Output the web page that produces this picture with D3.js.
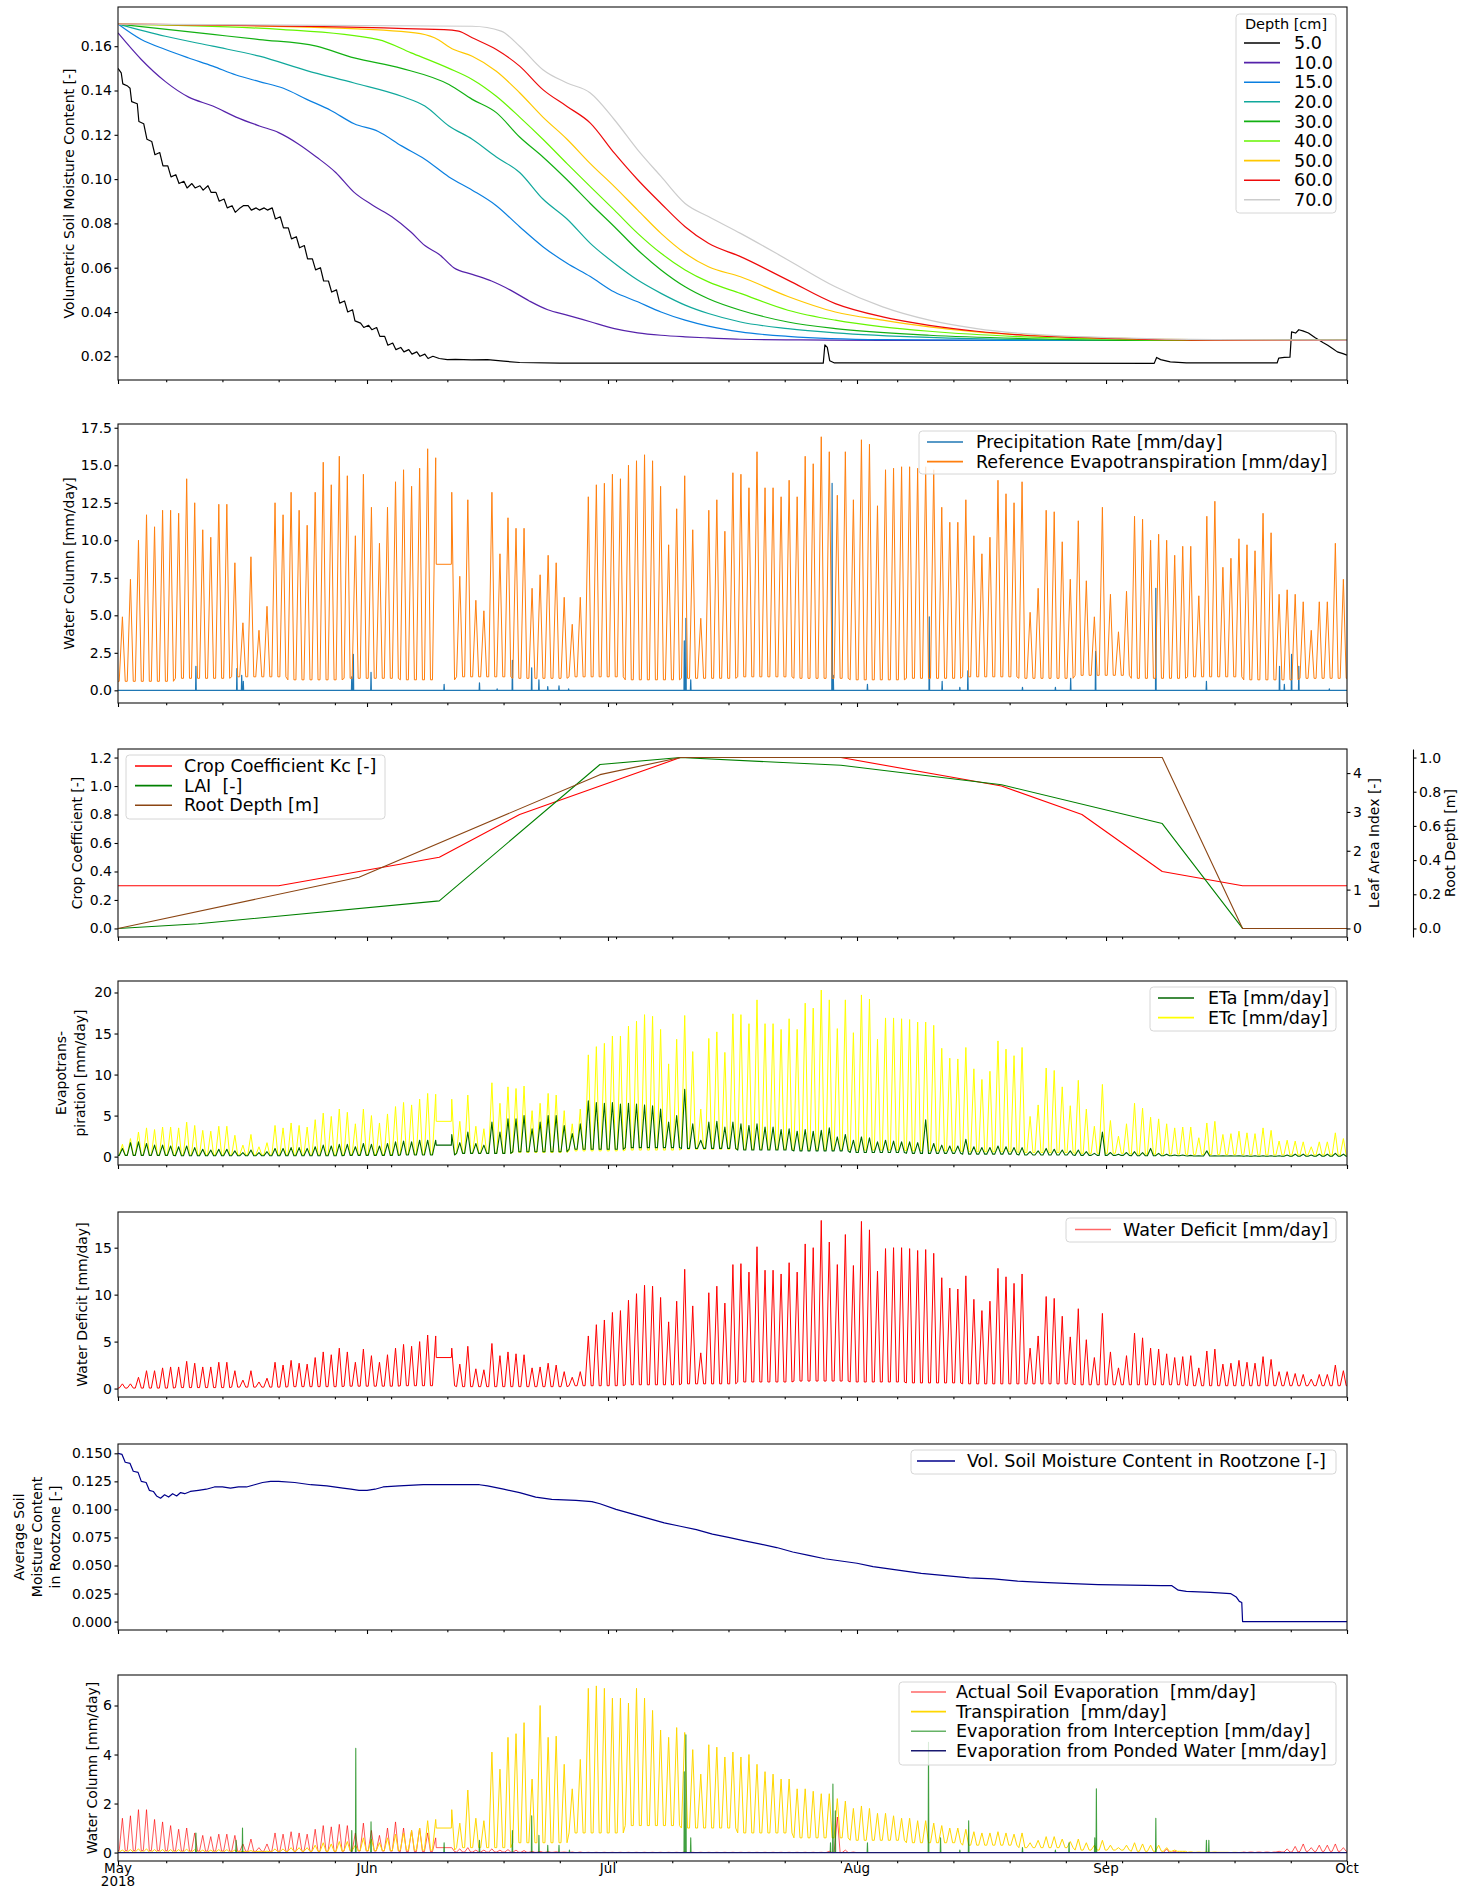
<!DOCTYPE html>
<html>
<head>
<meta charset="utf-8">
<script src="https://cdn.jsdelivr.net/npm/d3@7"></script>
<style>
  body { margin: 0; background: #fff; }
  svg { font-family: "DejaVu Sans", sans-serif; }
  text { white-space: pre; }
</style>
</head>
<body>
<svg width="1476" height="1887"></svg>
<script>
// ---- data (day 0 = 2018-05-01) ----
const depths = ["5.0", "10.0", "15.0", "20.0", "30.0", "40.0", "50.0", "60.0", "70.0"];
const depthColors = ["#000000", "#5522aa", "#0a7fe0", "#10a89c", "#12b012", "#66f500", "#ffc800", "#ee0a0a", "#cccccc"];

const sm5 = [[0,0.150],[0.4,0.148],[0.6,0.143],[1.2,0.142],[1.5,0.141],[1.7,0.135],[2.4,0.134],[2.6,0.126],[3.2,0.125],[3.6,0.118],[4.2,0.117],[4.6,0.111],[5.2,0.112],[5.6,0.106],[6.2,0.106],[6.6,0.101],[7.2,0.102],[7.6,0.098],[8.2,0.099],[8.6,0.096],[9.2,0.098],[9.6,0.096],[10.2,0.097],[10.6,0.095],[11.2,0.097],[11.6,0.094],[12.2,0.094],[12.6,0.090],[13.2,0.091],[13.6,0.087],[14.2,0.088],[14.6,0.085],[15.2,0.087],[15.6,0.088],[16.2,0.088],[16.6,0.086],[17.2,0.087],[17.6,0.086],[18.2,0.087],[18.6,0.086],[19.2,0.087],[19.6,0.082],[20.2,0.083],[20.6,0.078],[21.2,0.078],[21.6,0.073],[22.2,0.074],[22.6,0.069],[23.2,0.070],[23.6,0.064],[24.2,0.064],[24.6,0.059],[25.2,0.060],[25.6,0.054],[26.2,0.054],[26.6,0.049],[27.2,0.050],[27.6,0.044],[28.2,0.045],[28.6,0.040],[29.2,0.041],[29.5,0.036],[30.2,0.035],[30.6,0.033],[31.2,0.034],[31.6,0.032],[32.2,0.033],[32.6,0.029],[33.2,0.029],[33.6,0.025],[34.2,0.026],[34.6,0.023],[35.2,0.024],[35.6,0.022],[36.2,0.023],[36.6,0.021],[37.2,0.022],[37.6,0.020],[38.2,0.021],[38.6,0.019],[39.2,0.020],[40,0.0190],[41,0.0185],[42,0.0186],[44,0.0184],[46,0.0185],[48,0.0178],[50,0.0172],[55,0.0169],[87.8,0.0169],[88.0,0.0252],[88.3,0.0240],[88.6,0.018],[89.2,0.0170],[129.0,0.0168],[129.3,0.0195],[129.8,0.0185],[131,0.0175],[133,0.0170],[144.3,0.0170],[144.5,0.0192],[145.2,0.0195],[145.9,0.0196],[146.1,0.0310],[146.6,0.0305],[147.0,0.0320],[147.5,0.0315],[148.2,0.0305],[149,0.0285],[150,0.0262],[150.6,0.025],[151.2,0.0235],[151.8,0.022],[152.5,0.0212],[153,0.0205]];
const sm10 = [[0,0.166],[2.9,0.154],[5.9,0.144],[8.8,0.137],[11.8,0.133],[14.7,0.128],[17.6,0.124],[20,0.121],[22.4,0.116],[24.7,0.110],[27.1,0.103],[29.4,0.094],[31.8,0.088],[34.1,0.083],[36.5,0.076],[38.2,0.070],[40,0.066],[41.8,0.060],[44.1,0.057],[46.5,0.054],[48.8,0.050],[51.2,0.045],[53.5,0.041],[55.9,0.0386],[58.8,0.0356],[61.8,0.0325],[64.7,0.0306],[67.6,0.0295],[70.6,0.0288],[73.5,0.0283],[77.5,0.0277],[85,0.0274],[95,0.0272],[153,0.0272]];
const sm15 = [[0,0.170],[2.9,0.163],[5.9,0.1585],[8.8,0.1547],[11.8,0.151],[14.7,0.147],[17.6,0.144],[20.6,0.141],[23.5,0.136],[26.5,0.131],[29.4,0.125],[32.4,0.1215],[35.3,0.115],[38.2,0.109],[41.2,0.101],[44.1,0.095],[47.1,0.088],[50,0.0785],[52.9,0.0695],[55.9,0.062],[58.8,0.056],[61.8,0.049],[64.7,0.0446],[67.6,0.040],[70.6,0.0363],[73.5,0.0336],[77.5,0.031],[83.4,0.029],[95.2,0.0275],[110,0.0272],[153,0.0272]];
const sm20 = [[0,0.170],[5.9,0.1645],[11.8,0.160],[17.6,0.1555],[23.5,0.149],[29.4,0.1434],[35.3,0.1374],[38.2,0.133],[41.2,0.124],[44.1,0.118],[47.1,0.110],[50,0.103],[52.9,0.091],[55.9,0.082],[58.8,0.071],[61.8,0.062],[64.7,0.0544],[67.6,0.0484],[70.6,0.0431],[73.5,0.0393],[77.5,0.0355],[83.4,0.0325],[89.3,0.0306],[101,0.0285],[112.8,0.0275],[125,0.0272],[153,0.0272]];
const sm30 = [[0,0.170],[11.8,0.1653],[17.6,0.163],[24.7,0.160],[29.4,0.1547],[35.3,0.150],[41.2,0.1427],[44.1,0.136],[47.1,0.130],[50,0.119],[52.9,0.110],[55.9,0.0997],[58.8,0.089],[61.8,0.0785],[64.7,0.068],[67.6,0.059],[70.6,0.0514],[73.5,0.046],[77.5,0.0408],[83.4,0.0355],[89.3,0.0325],[101,0.0295],[112.8,0.028],[124.6,0.0272],[153,0.0272]];
const sm40 = [[0,0.170],[20.6,0.1675],[32.4,0.163],[36.5,0.157],[41.2,0.150],[44.1,0.145],[47.1,0.1374],[50,0.128],[52.9,0.118],[55.9,0.107],[58.8,0.0966],[61.8,0.086],[64.7,0.0755],[67.6,0.0665],[70.6,0.059],[73.5,0.0536],[77.5,0.0484],[83.4,0.0408],[89.3,0.0363],[95.2,0.0333],[101,0.0313],[112.8,0.0288],[124.6,0.0277],[135,0.0272],[153,0.0272]];
const sm50 = [[0,0.170],[26.5,0.1683],[37,0.166],[39.4,0.1638],[41.8,0.1585],[44.1,0.1555],[47.1,0.1487],[50,0.139],[52.9,0.128],[55.9,0.118],[58.8,0.107],[61.8,0.0966],[64.7,0.086],[67.6,0.0755],[70.6,0.0665],[73.5,0.0604],[77.5,0.0559],[83.4,0.047],[89.3,0.040],[95.2,0.0363],[101,0.0333],[106.9,0.031],[118.7,0.0288],[130.5,0.0277],[140,0.0273],[153,0.0272]];
const sm60 = [[0,0.170],[40.6,0.1675],[42.4,0.1668],[44.1,0.1638],[47.1,0.1585],[50,0.151],[52.9,0.1404],[55.9,0.1328],[58.8,0.1253],[61.8,0.1117],[64.7,0.0997],[67.6,0.089],[70.6,0.0785],[73.5,0.071],[77.5,0.065],[83.4,0.0544],[89.3,0.0438],[95.2,0.0378],[101,0.034],[106.9,0.0313],[112.8,0.0295],[124.6,0.028],[136.4,0.0273],[153,0.0272]];
const sm70 = [[0,0.170],[44.1,0.169],[47.7,0.1668],[50,0.160],[52.9,0.1494],[55.9,0.1434],[58.8,0.1389],[61.8,0.1268],[64.7,0.1132],[67.6,0.1012],[70.6,0.089],[73.5,0.0831],[77.5,0.0755],[83.4,0.0635],[89.3,0.0514],[95.2,0.0423],[101,0.0363],[106.9,0.0325],[112.8,0.0302],[124.6,0.0283],[136.4,0.0275],[153,0.0273]];
const soilMoisture = [sm5, sm10, sm15, sm20, sm30, sm40, sm50, sm60, sm70];

// daily peak values, one per day
const et0Peaks = [
  4.9,7.4,10.0,11.7,10.9,12.0,12.0,11.8,14.1,12.5,
  10.7,10.2,12.4,12.4,8.5,4.5,8.9,4.0,5.6,12.5,
  11.7,13.2,12.0,11.0,13.2,15.2,13.7,15.6,14.3,10.3,
  14.4,12.2,9.8,12.2,13.9,14.7,13.6,14.8,16.1,15.5,
  8.4,13.2,7.6,12.7,6.0,5.3,13.2,9.1,11.5,10.8,
  10.8,6.8,7.7,9.0,8.5,6.2,4.4,6.2,12.9,13.7,
  13.8,14.4,14.1,15.0,15.3,15.7,15.3,13.6,9.7,12.1,
  14.3,10.7,4.8,12.0,12.7,10.6,14.5,14.4,13.5,15.9,
  13.5,13.5,12.9,14.0,12.9,15.6,15.1,16.9,15.9,13.0,
  15.9,12.7,16.7,16.4,12.3,14.7,14.8,14.9,14.9,14.8,
  14.9,14.7,12.2,11.2,11.2,12.7,10.3,9.1,10.2,14.0,
  13.1,12.5,13.9,5.2,6.8,12.0,11.9,9.9,7.4,11.3,
  7.3,4.9,12.2,6.4,3.9,6.6,11.6,11.4,10.0,10.4,
  10.0,9.0,9.6,9.6,6.3,11.6,12.6,8.2,8.8,10.1,
  9.7,9.3,11.8,10.5,6.4,6.7,6.4,5.9,4.0,5.9,
  5.9,9.8,7.4];
const etcPeaks = [
  1.5,2.2,3.0,3.5,3.3,3.6,3.6,3.5,4.2,3.8,
  3.2,3.1,3.7,3.7,2.6,1.4,2.7,1.2,1.7,3.8,
  3.5,4.1,3.8,3.6,4.5,5.3,4.9,5.8,5.4,4.0,
  5.8,5.0,4.1,5.2,6.1,6.6,6.3,7.0,7.7,7.6,
  4.3,7.0,4.3,7.5,3.7,3.4,9.0,6.5,8.5,8.3,
  8.6,5.6,6.5,7.7,7.5,5.6,4.0,5.8,12.4,13.4,
  13.8,14.7,14.7,15.9,16.5,17.3,17.1,15.5,11.3,14.3,
  17.2,12.8,5.8,14.4,15.2,12.7,17.4,17.3,16.2,19.1,
  16.2,16.2,15.5,16.8,15.5,18.7,18.1,20.3,19.1,15.6,
  19.1,15.1,19.7,19.2,14.3,16.9,16.9,16.8,16.7,16.4,
  16.4,16.0,13.2,12.0,11.9,13.3,10.7,9.4,10.4,14.1,
  13.1,12.3,13.3,4.9,6.3,10.8,10.5,8.5,6.2,9.3,
  5.8,3.7,8.8,4.4,2.5,4.0,6.5,5.9,4.8,4.6,
  4.0,3.5,3.6,3.6,2.3,4.1,4.3,2.7,2.8,3.1,
  2.9,2.8,3.5,3.2,1.9,2.0,1.9,1.8,1.2,1.8,
  1.8,2.9,2.2];
const etaPeaks = [
  1.0,1.7,1.8,1.6,1.4,1.4,1.3,1.2,1.3,1.1,
  0.9,0.8,0.9,0.9,0.7,0.5,0.8,0.5,0.6,1.0,
  1.0,1.1,1.1,1.0,1.2,1.4,1.3,1.5,1.5,1.2,
  1.6,1.5,1.3,1.6,1.8,1.9,1.8,2.0,2.0,2.0,
  1.4,2.7,1.7,3.0,1.6,1.4,4.2,3.0,4.6,4.6,
  5.0,3.4,4.2,5.0,5.0,3.8,2.8,4.0,6.8,6.6,
  6.5,6.6,6.4,6.5,6.4,6.3,6.2,5.8,4.2,5.0,
  8.2,4.0,2.0,4.2,4.3,3.6,4.2,4.0,3.8,4.0,
  3.6,3.6,3.3,3.4,3.1,3.3,3.1,3.2,3.5,2.4,
  2.7,2.0,2.4,2.3,1.8,2.0,1.9,1.8,1.8,1.7,
  4.5,1.6,1.4,1.3,1.3,2.1,1.2,1.1,1.1,1.3,
  1.2,1.1,1.1,0.6,0.7,1.0,0.9,0.8,0.7,0.8,
  0.6,0.4,3.0,0.5,0.3,0.5,0.6,0.5,1.0,0.4,
  0.3,0.2,0.2,0.15,0.1,0.7,0.1,0.1,0.1,0.1,
  0.1,0.1,0.1,0.1,0.1,0.2,0.3,0.3,0.2,0.3,
  0.3,0.4,0.3];
const deficitPeaks = [
  0.5,0.5,1.2,1.9,1.9,2.2,2.3,2.3,2.9,2.7,
  2.3,2.3,2.8,2.8,1.9,0.9,1.9,0.7,1.1,2.8,
  2.5,3.0,2.7,2.6,3.3,3.9,3.6,4.3,3.9,2.8,
  4.2,3.5,2.8,3.6,4.3,4.7,4.5,5.0,5.7,5.6,
  3.3,4.3,2.6,4.5,2.1,2.0,4.8,3.5,3.9,3.7,
  3.6,2.2,2.3,2.7,2.5,1.8,1.2,1.8,5.6,6.8,
  7.3,8.1,8.3,9.4,10.1,11.0,10.9,9.7,7.1,9.3,
  12.7,8.8,3.8,10.2,10.9,9.1,13.2,13.3,12.4,15.1,
  12.6,12.6,12.2,13.4,12.4,15.4,15.0,17.9,15.6,13.2,
  16.4,13.1,17.8,16.9,12.5,14.9,15.0,15.0,14.9,14.7,
  14.8,14.4,11.8,10.7,10.6,12.0,9.5,8.3,9.3,12.8,
  11.9,11.2,12.2,4.3,5.6,9.8,9.6,7.7,5.5,8.5,
  5.2,3.3,8.0,3.9,2.2,3.5,5.9,5.4,4.3,4.2,
  3.7,3.3,3.4,3.5,2.2,4.0,4.2,2.6,2.7,3.0,
  2.8,2.7,3.4,3.1,1.8,1.8,1.6,1.5,1.0,1.5,
  1.5,2.5,1.9];
const transpPeaks = [
  0.1,0.12,0.15,0.15,0.12,0.12,0.12,0.12,0.14,0.12,
  0.1,0.1,0.12,0.12,0.1,0.05,0.08,0.05,0.06,0.15,
  0.15,0.2,0.2,0.2,0.3,0.4,0.35,0.45,0.45,0.3,
  0.6,0.55,0.4,0.6,0.75,0.8,0.9,1.0,1.3,1.35,
  1.0,1.75,1.2,2.55,1.4,1.3,4.1,3.4,4.7,4.85,
  5.3,3.0,6.0,4.7,4.75,3.6,2.6,3.8,6.7,6.8,
  6.7,6.3,6.3,6.1,6.7,6.3,5.8,5.0,4.7,5.1,
  4.9,4.2,3.2,4.4,4.3,3.9,4.1,3.9,4.0,3.6,
  3.3,3.2,3.0,3.0,2.6,2.6,2.5,2.4,2.4,2.2,
  2.1,1.8,1.9,1.8,1.6,1.6,1.5,1.4,1.4,1.3,
  1.3,1.2,1.1,1.0,1.0,0.95,0.85,0.8,0.8,0.85,
  0.8,0.75,0.8,0.4,0.5,0.65,0.65,0.55,0.45,0.55,
  0.4,0.3,0.5,0.3,0.2,0.3,0.4,0.35,0.3,0.3,
  0.2,0.1,0.05,0.03,0.02,0.02,0.02,0.01,0,0,
  0,0,0,0,0,0,0,0,0,0,
  0,0,0];
const soilEvapPeaks = [
  1.4,1.5,1.75,1.75,1.35,1.25,1.1,0.95,1.0,0.8,
  0.7,0.65,0.75,0.75,0.7,0.35,0.55,0.2,0.35,0.8,
  0.75,0.85,0.8,0.75,0.95,1.1,1.05,1.15,1.1,0.8,
  1.2,0.9,0.7,1.0,1.25,1.0,0.9,1.0,0.8,0.6,
  0.2,0.2,0.15,0.2,0.1,0.1,0.15,0.1,0.12,0.1,
  0.08,0.05,0.05,0.04,0.03,0.02,0.02,0.02,0.01,0.01,
  0.01,0.01,0.01,0.01,0.01,0.01,0.01,0.01,0.01,0.01,
  0.02,0.01,0.01,0.01,0.01,0.01,0.01,0.01,0.01,0.01,
  0.01,0.01,0.01,0.01,0.01,0.01,0.01,0.01,0.05,1.45,
  0.1,0.02,0,0,0,0,0,0,0,0,
  0,0,0,0,0,0,0,0,0,0,
  0,0,0,0,0,0,0,0,0,0,
  0,0,0,0,0,0,0,0,0,0,
  0.15,0.05,0,0,0,0,0,0,0,0,
  0,0,0,0,0.05,0.15,0.25,0.35,0.2,0.3,
  0.3,0.35,0.2];

// night-time lows, one per week
const et0Lows = [0.6,0.8,0.9,0.7,0.8,0.7,0.9,0.8,0.9,0.7,0.8,0.9,0.8,0.7,0.8,0.9,0.8,1.0,0.8,0.9,0.7,0.8];
const etcLows = [0.15,0.2,0.2,0.2,0.25,0.3,0.4,0.5,0.7,0.8,0.9,0.9,0.9,0.8,0.7,0.6,0.5,0.4,0.3,0.25,0.2,0.2];
const etaLows = [0.15,0.1,0.1,0.1,0.15,0.2,0.4,0.6,0.9,1.1,1.0,0.8,0.7,0.5,0.4,0.3,0.2,0.15,0.1,0.08,0.05,0.05];
const deficitLows = [0.05,0.1,0.15,0.2,0.25,0.3,0.2,0.2,0.3,0.4,0.5,0.7,0.8,0.7,0.6,0.5,0.5,0.4,0.4,0.3,0.3,0.3];
const transpLows = [0.02,0.02,0.03,0.05,0.08,0.1,0.2,0.4,0.8,1.1,1.0,0.8,0.6,0.5,0.4,0.3,0.2,0.1,0.05,0.01,0,0];
const soilEvapLows = [0.08,0.06,0.05,0.05,0.06,0.04,0.02,0.01,0,0,0,0,0,0,0,0,0,0,0,0,0.02,0.05];

// level held across the data gap on day 40
const gapDay = 40;
const gapLevels = { et0: 8.4, etc: 4.3, eta: 1.4, deficit: 3.3, transp: 1.0, soilEvap: 0.2 };

// rain-type events [day, value]
const precipEvents = [[9.7,1.6],[14.8,1.45],[15.4,1.0],[15.6,0.6],[29.1,0.9],[29.3,2.4],[31.5,1.2],[40.6,0.4],[45.0,0.5],[47.2,0.1],[49.1,2.0],[51.5,1.5],[52.4,0.7],[53.5,0.25],[54.9,0.3],[56.1,0.1],[70.5,3.3],[70.7,4.8],[71.3,0.7],[88.9,13.8],[89.05,1.0],[93.3,0.4],[101.0,4.9],[102.6,0.6],[104.8,0.2],[105.8,1.3],[112.6,0.2],[116.7,0.2],[118.6,0.8],[121.7,2.6],[129.2,6.8],[135.5,0.6],[144.6,1.6],[145.2,0.4],[146.1,2.4],[147.0,1.6],[150.8,0.1]];
const interceptEvents = [[9.7,0.8],[14.7,0.5],[15.5,1.0],[29.1,0.9],[29.6,4.25],[31.5,1.25],[40.6,0.4],[45.0,0.5],[49.1,0.9],[51.5,1.5],[52.4,0.7],[53.5,0.3],[54.9,0.3],[56.2,0.1],[70.5,3.3],[70.7,4.8],[71.3,0.6],[88.7,0.4],[89.0,2.8],[89.3,1.7],[93.3,0.4],[100.9,4.5],[102.4,0.6],[104.8,0.1],[105.9,1.3],[112.6,0.2],[116.7,0.1],[118.4,0.4],[121.6,0.6],[121.8,2.6],[129.2,1.4],[135.5,0.5],[135.8,0.5]];
const pondedWater = [[0,0],[153,0]];

// crop parameters
const kcDays = [0,20,40,50,60,70,90,110,120,130,140,153];
const kcVals = [0.3,0.3,0.5,0.8,1.0,1.2,1.2,1.0,0.8,0.4,0.3,0.3];
const laiDays = [0,10,40,60,70,90,110,130,140,153];
const laiVals = [0,0.12,0.71,4.22,4.4,4.2,3.7,2.7,0,0];
const rootDays = [0,30,60,70,130,140,153];
const rootVals = [0,0.30,0.90,1.0,1.0,0,0];

const rootzone = [[0,0.150],[0.5,0.149],[0.9,0.142],[1.5,0.141],[1.9,0.134],[2.5,0.133],[2.9,0.125],[3.5,0.124],[3.9,0.117],[4.4,0.116],[4.8,0.112],[5.3,0.110],[5.8,0.113],[6.3,0.111],[6.8,0.114],[7.3,0.112],[7.8,0.115],[8.3,0.114],[9,0.116],[10,0.117],[11,0.118],[12,0.120],[13,0.120],[14,0.119],[15,0.120],[16,0.120],[17,0.122],[18,0.124],[19,0.125],[20,0.125],[22,0.124],[24,0.122],[26,0.121],[28,0.119],[29,0.118],[30,0.117],[31,0.117],[32,0.118],[33,0.120],[35,0.121],[38,0.122],[41,0.122],[44,0.122],[45,0.122],[46,0.121],[48,0.118],[50,0.115],[52,0.111],[54,0.109],[57,0.108],[59,0.107],[60,0.105],[62,0.100],[64,0.096],[66,0.092],[68,0.088],[70,0.085],[72,0.082],[74,0.078],[76,0.075],[78,0.072],[80,0.069],[82,0.066],[84,0.062],[86,0.059],[88,0.056],[90,0.054],[92,0.052],[94,0.049],[96,0.047],[98,0.045],[100,0.043],[103,0.041],[106,0.039],[109,0.038],[112,0.036],[115,0.035],[118,0.034],[122,0.033],[126,0.0325],[130,0.032],[131.2,0.032],[132,0.028],[133,0.027],[136,0.026],[138.5,0.025],[139.2,0.022],[139.6,0.018],[139.9,0.017],[140.0,0.0],[153,0.0]];

const monthLabels = ["May", "Jun", "Jul", "Aug", "Sep", "Oct"];

// ---- layout ----
const svg = d3.select("svg");
const left = 118, right = 1347;
const DAY = 864e5;
const t0 = Date.UTC(2018, 4, 1);
const date = d => new Date(t0 + d * DAY);
const x = d3.scaleUtc().domain([date(0), date(153)]).range([left, right]);

function daily(peaks, lows, gapLevel) {
  const pts = [[0, lows[0]]];
  peaks.forEach((p, d) => {
    const low = lows[Math.floor(d / 7)];
    if (d === gapDay) {
      pts.push([d - 0.38, gapLevel], [d + 1.5, gapLevel]);
      return;
    }
    if (d !== gapDay + 1) pts.push([d + 0.15, low]);
    pts.push([d + 0.55, p]);
    if (d !== gapDay - 1) pts.push([d + 0.9, low]);
  });
  pts.push([153, lows[lows.length - 1]]);
  return pts;
}

function spikes(events) {
  const pts = [[0, 0]];
  events.forEach(([d, v]) => pts.push([d - 0.04, 0], [d, v], [d + 0.04, 0]));
  pts.push([153, 0]);
  return pts;
}

function styleAxis(a) {
  a.attr("font-size", 14).attr("font-family", "DejaVu Sans");
  a.selectAll("line").attr("stroke-width", 1.1);
  a.selectAll(".domain").attr("stroke-width", 1.1);
}

function panel(top, bottom, domain, ticks, fmt) {
  const y = d3.scaleLinear().domain(domain).range([bottom, top]);
  const id = "clip" + top;
  svg.append("clipPath").attr("id", id)
    .append("rect")
    .attr("x", left).attr("y", top)
    .attr("width", right - left).attr("height", bottom - top);
  const plot = svg.append("g").attr("clip-path", `url(#${id})`);

  const yAxis = svg.append("g")
    .attr("transform", `translate(${left},0)`)
    .call(d3.axisLeft(y).tickValues(ticks).tickFormat(d3.format(fmt)).tickSize(3.5).tickPadding(2.5));
  yAxis.select(".domain").remove();
  styleAxis(yAxis);

  const minor = svg.append("g")
    .attr("transform", `translate(0,${bottom})`)
    .call(d3.axisBottom(x).tickValues(d3.utcMonday.range(date(0), date(153.01))).tickSize(2.2).tickFormat(""));
  minor.select(".domain").remove();
  styleAxis(minor);
  const major = svg.append("g")
    .attr("transform", `translate(0,${bottom})`)
    .call(d3.axisBottom(x).tickValues(d3.utcMonth.range(date(0), date(153.01))).tickSize(4).tickFormat(""));
  major.select(".domain").remove();
  styleAxis(major);

  svg.append("rect")
    .attr("x", left).attr("y", top)
    .attr("width", right - left).attr("height", bottom - top)
    .attr("fill", "none").attr("stroke", "#111").attr("stroke-width", 1.1);
  return { y, plot, top, bottom };
}

function draw(p, pts, color, width, opacity, yScale, curve) {
  const ys = yScale || p.y;
  p.plot.append("path")
    .datum(pts)
    .attr("fill", "none")
    .attr("stroke", color)
    .attr("stroke-width", width)
    .attr("stroke-opacity", opacity == null ? 1 : opacity)
    .attr("stroke-linejoin", "round")
    .attr("d", d3.line().curve(curve || d3.curveLinear).x(q => x(date(q[0]))).y(q => ys(q[1])));
}

function yLabel(lines, cx, top, bottom, gap) {
  const cy = (top + bottom) / 2;
  const t = svg.append("text")
    .attr("transform", `translate(${cx},${cy}) rotate(-90)`)
    .attr("text-anchor", "middle")
    .attr("font-size", 14);
  lines.forEach((s, i) => {
    t.append("tspan")
      .attr("x", 0)
      .attr("y", (i - (lines.length - 1) / 2) * (gap || 18))
      .attr("dy", "0.35em")
      .text(s);
  });
}

function legend(bx, by, bw, bh, firstY, hx0, hx1, tx, entries) {
  const g = svg.append("g");
  g.append("rect")
    .attr("x", bx).attr("y", by).attr("width", bw).attr("height", bh)
    .attr("rx", 3.5)
    .attr("fill", "#fff").attr("fill-opacity", 0.8)
    .attr("stroke", "#d6d6d6").attr("stroke-width", 1);
  entries.forEach((e, i) => {
    const yy = firstY + i * 19.6;
    g.append("line")
      .attr("x1", hx0).attr("x2", hx1).attr("y1", yy).attr("y2", yy)
      .attr("stroke", e.color).attr("stroke-width", 1.6)
      .attr("stroke-opacity", e.opacity == null ? 1 : e.opacity);
    g.append("text")
      .attr("x", tx).attr("y", yy).attr("dy", "0.35em")
      .attr("font-size", 17.5)
      .text(e.label);
  });
  return g;
}

// ---- panel 1: soil moisture by depth ----
const p1 = panel(7, 380, [0.0093, 0.1777], d3.range(0.02, 0.161, 0.02), ".2f");
soilMoisture.forEach((s, i) => draw(p1, s, depthColors[i], 1.2, 1, null, i === 0 ? d3.curveLinear : d3.curveMonotoneX));
yLabel(["Volumetric Soil Moisture Content [-]"], 69, 7, 380);
const lg1 = legend(1236, 14, 100, 199, 43, 1244, 1280, 1294,
  depths.map((d, i) => ({ label: d, color: depthColors[i] })));
lg1.append("text").attr("x", 1286).attr("y", 24).attr("dy", "0.35em")
  .attr("text-anchor", "middle").attr("font-size", 14.5).text("Depth [cm]");

// ---- panel 2: precipitation and reference ET ----
const p2 = panel(424, 703, [-0.845, 17.75], d3.range(0, 17.6, 2.5), ".1f");
draw(p2, spikes(precipEvents), "#1f77b4", 1.2);
draw(p2, daily(et0Peaks, et0Lows, gapLevels.et0), "#ff7f0e", 1);
yLabel(["Water Column [mm/day]"], 69, 424, 703);
legend(919, 431, 417, 43, 442, 927, 963, 976, [
  { label: "Precipitation Rate [mm/day]", color: "#1f77b4" },
  { label: "Reference Evapotranspiration [mm/day]", color: "#ff7f0e" }
]);

// ---- panel 3: crop coefficient, LAI, root depth ----
const p3 = panel(749, 937, [-0.06, 1.26], d3.range(0, 1.21, 0.2), ".1f");
const yLai = d3.scaleLinear().domain([-0.22, 4.62]).range([937, 749]);
const yRoot = d3.scaleLinear().domain([-0.05, 1.05]).range([937, 749]);
draw(p3, d3.zip(kcDays, kcVals), "red", 1.1);
draw(p3, d3.zip(laiDays, laiVals), "green", 1.1, 1, yLai);
draw(p3, d3.zip(rootDays, rootVals), "saddlebrown", 1.1, 1, yRoot);
const laiAxis = svg.append("g").attr("transform", `translate(${right},0)`)
  .call(d3.axisRight(yLai).tickValues([0, 1, 2, 3, 4]).tickFormat(d3.format("d")).tickSize(3.5).tickPadding(2.5));
laiAxis.select(".domain").remove();
styleAxis(laiAxis);
const rootAxis = svg.append("g").attr("transform", "translate(1413,0)")
  .call(d3.axisRight(yRoot).tickValues(d3.range(0, 1.01, 0.2)).tickFormat(d3.format(".1f")).tickSize(3.5).tickSizeOuter(0).tickPadding(2.5));
styleAxis(rootAxis);
yLabel(["Crop Coefficient [-]"], 77, 749, 937);
yLabel(["Leaf Area Index [-]"], 1374, 749, 937);
yLabel(["Root Depth [m]"], 1450, 749, 937);
legend(126, 755, 259, 64, 766, 135, 172, 184, [
  { label: "Crop Coefficient Kc [-]", color: "red" },
  { label: "LAI  [-]", color: "green" },
  { label: "Root Depth [m]", color: "saddlebrown" }
]);

// ---- panel 4: ETa / ETc ----
const p4 = panel(981, 1165, [-1.02, 21.4], [0, 5, 10, 15, 20], "d");
draw(p4, daily(etcPeaks, etcLows, gapLevels.etc), "#ffff00", 1);
draw(p4, daily(etaPeaks, etaLows, gapLevels.eta), "#006400", 1.1);
yLabel(["Evapotrans-", "piration [mm/day]"], 71, 981, 1165, 19);
legend(1150, 987, 186, 44, 998, 1158, 1194, 1208, [
  { label: "ETa [mm/day]", color: "#006400" },
  { label: "ETc [mm/day]", color: "#ffff00" }
]);

// ---- panel 5: water deficit ----
const p5 = panel(1212, 1397, [-0.9, 18.8], [0, 5, 10, 15], "d");
draw(p5, daily(deficitPeaks, deficitLows, gapLevels.deficit), "red", 1);
yLabel(["Water Deficit [mm/day]"], 82, 1212, 1397);
legend(1066, 1218, 270, 24, 1229.5, 1075, 1111, 1123, [
  { label: "Water Deficit [mm/day]", color: "red", opacity: 0.6 }
]);

// ---- panel 6: root zone moisture ----
const p6 = panel(1444, 1630, [-0.0075, 0.1583], d3.range(0, 0.151, 0.025), ".3f");
draw(p6, rootzone, "darkblue", 1.2);
yLabel(["Average Soil", "Moisture Content", "in Rootzone [-]"], 37, 1444, 1630, 18);
legend(911, 1450, 425, 24, 1461, 917, 955, 967, [
  { label: "Vol. Soil Moisture Content in Rootzone [-]", color: "darkblue" }
]);

// ---- panel 7: evaporation components ----
const p7 = panel(1675, 1861, [-0.345, 7.245], [0, 2, 4, 6], "d");
draw(p7, daily(soilEvapPeaks, soilEvapLows, gapLevels.soilEvap), "red", 1, 0.65);
draw(p7, daily(transpPeaks, transpLows, gapLevels.transp), "#ffd700", 1);
draw(p7, spikes(interceptEvents), "green", 1.1, 0.75);
draw(p7, pondedWater, "#191970", 1.2);
yLabel(["Water Column [mm/day]"], 92, 1675, 1861);
legend(899, 1682, 437, 83, 1692, 911, 946, 956, [
  { label: "Actual Soil Evaporation  [mm/day]", color: "red", opacity: 0.6 },
  { label: "Transpiration  [mm/day]", color: "#ffd700" },
  { label: "Evaporation from Interception [mm/day]", color: "green", opacity: 0.6 },
  { label: "Evaporation from Ponded Water [mm/day]", color: "#191970" }
]);

// month labels under the last panel
d3.utcMonth.range(date(0), date(153.01)).forEach((m, i) => {
  svg.append("text")
    .attr("x", x(m)).attr("y", 1873)
    .attr("text-anchor", "middle").attr("font-size", 13.5)
    .text(monthLabels[i]);
});
svg.append("text")
  .attr("x", x(date(0))).attr("y", 1885.5)
  .attr("text-anchor", "middle").attr("font-size", 13.5)
  .text("2018");
</script>
</body>
</html>
